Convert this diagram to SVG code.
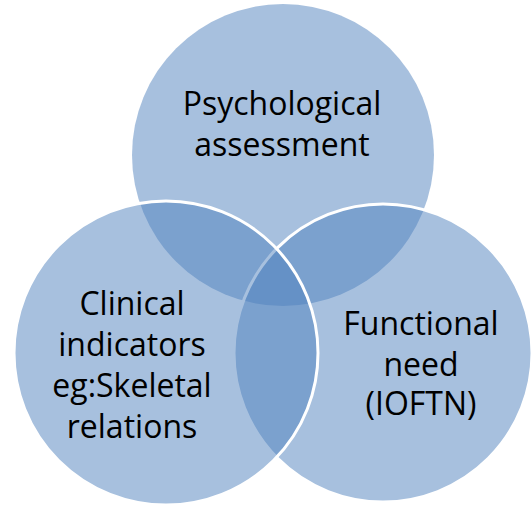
<svg xmlns="http://www.w3.org/2000/svg" width="531" height="506" viewBox="0 0 531 506">
  <style>
    .c { fill: #4F81BD; fill-opacity: 0.5; }
    .s { stroke: #FFFFFF; stroke-width: 3; }
    .t { font-family: "Open Sans", Lato, "Liberation Sans", sans-serif; font-size: 32px; fill: #000000; text-anchor: middle; }
  </style>
  <rect width="531" height="506" fill="#FFFFFF"/>
  <g id="top">
    <circle class="c" cx="283" cy="155" r="151"/>
    <text class="t" x="282" y="115">Psychological</text>
    <text class="t" x="282" y="156">assessment</text>
  </g>
  <g id="right">
    <circle class="c s" cx="383" cy="353" r="149"/>
    <text class="t" x="421" y="335">Functional</text>
    <text class="t" x="421" y="376">need</text>
    <text class="t" x="421" y="415">(IOFTN)</text>
  </g>
  <g id="left">
    <circle class="c s" cx="166" cy="353" r="152"/>
    <text class="t" x="132" y="315">Clinical</text>
    <text class="t" x="132" y="356">indicators</text>
    <text class="t" x="132" y="397">eg:Skeletal</text>
    <text class="t" x="132" y="438">relations</text>
  </g>
</svg>
